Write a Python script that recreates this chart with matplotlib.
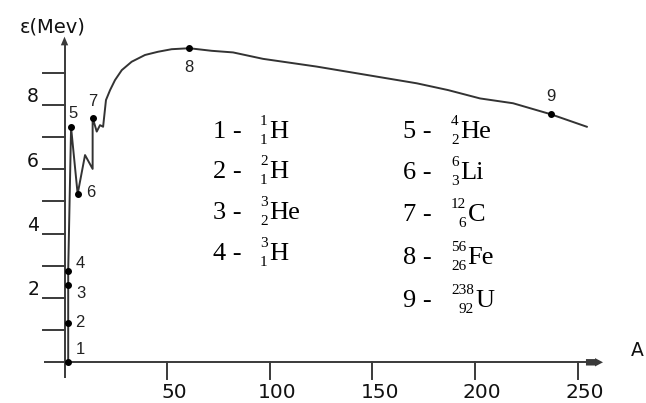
import matplotlib
matplotlib.use('Agg')
import matplotlib.pyplot as plt
from matplotlib.patches import Polygon

W, H = 646, 403

# ---- data ----
curve_A = [1.8, 1.8, 1.8, 1.8, 3.2, 6.4, 10.0, 13.7, 13.7, 15.7, 17.3, 18.8, 20.2, 22.2,
           24.6, 27.9, 32.7, 39.2, 45.5, 52.2, 60.8, 71.7, 82.1, 96.7, 122.8, 147.2,
           171.6, 186.8, 202.4, 218.5, 236.8, 254.4]
curve_E = [0.0, 1.21, 2.40, 2.85, 7.30, 5.23, 6.44, 6.01, 7.60, 7.17, 7.37, 7.32, 8.15, 8.46,
           8.77, 9.08, 9.34, 9.55, 9.65, 9.73, 9.76, 9.68, 9.63, 9.43, 9.19, 8.93,
           8.67, 8.46, 8.20, 8.05, 7.71, 7.32]

mark_A = [1.8, 1.8, 1.8, 1.8, 3.2, 6.4, 13.7, 60.8, 236.8]
mark_E = [0.0, 1.21, 2.40, 2.85, 7.30, 5.23, 7.60, 9.76, 7.71]
mark_labels = ['1', '2', '3', '4', '5', '6', '7', '8', '9']

x_ticks = [50, 100, 150, 200, 250]
y_ticks = [1, 2, 3, 4, 5, 6, 7, 8, 9]
y_ticklabels = [2, 4, 6, 8]

legend_num = ['1', '2', '3', '4', '5', '6', '7', '8', '9']
legend_mass = ['1', '2', '3', '3', '4', '6', '12', '56', '238']
legend_Z = ['1', '1', '2', '1', '2', '3', '6', '26', '92']
legend_sym = ['H', 'H', 'He', 'H', 'He', 'Li', 'C', 'Fe', 'U']

# ---- layout / style ----
label_off = [(12, 13), (12, 1), (13, -8), (12, 7), (2, 14), (13, 2), (0, 16), (0, -19), (0, 18)]
# (left x of row number, baseline y) in pixels from top-left
leg_pos = [(213, 138), (213, 178), (213, 219), (213, 260),
           (403, 138), (403, 179), (403, 221), (403, 264), (403, 307)]
stack_x = [260, 260, 260, 260, 451, 451, 451, 451, 451]

line_col = '#333333'
axis_col = '#3a3a3a'


def fx(x):
    return x / W


def fy(y):
    return 1 - y / H


fig = plt.figure(figsize=(W / 100, H / 100), dpi=100)
ax = fig.add_axes([0, 0, 1, 1])
ax.set_xlim(-31.42, 283.24)
ax.set_ylim(-1.265, 11.259)
ax.axis('off')

# axes lines
ax.plot([-10, 254.5], [0, 0], color=axis_col, lw=1.4, solid_capstyle='butt')
ax.plot([0, 0], [-0.5, 9.9], color=axis_col, lw=1.4, solid_capstyle='butt')
ax.add_patch(Polygon([(-1.8, 9.85), (1.8, 9.85), (0, 10.12)], closed=True,
                     color=axis_col, lw=0))
ax.add_patch(Polygon([(254.0, 0.1), (258.4, 0.1), (258.4, 0.13), (262.3, 0),
                      (258.4, -0.13), (258.4, -0.1), (254.0, -0.1)], closed=True,
                     color=axis_col, lw=0))

# ticks
for t in x_ticks:
    ax.plot([t, t], [0, -0.53], color=axis_col, lw=1.4)
    ax.text(t + 3.5, -0.95, str(t), ha='center', va='center', fontsize=14.5,
            family='DejaVu Sans', color='#111111')
for t in y_ticks:
    ax.plot([-10.5, 0], [t, t], color=axis_col, lw=1.4)
for t in y_ticklabels:
    ax.text(-15.3, t + 0.25, str(t), ha='center', va='center', fontsize=13.5,
            family='DejaVu Sans', color='#111111')

# curve and marked points
ax.plot(curve_A, curve_E, color=line_col, lw=1.4)
ax.plot(mark_A, mark_E, 'o', color='black', ms=4)
for a, e, lab, off in zip(mark_A, mark_E, mark_labels, label_off):
    ax.annotate(lab, (a, e), xytext=off, textcoords='offset pixels',
                ha='center', va='center', fontsize=12,
                family='Liberation Sans', color='#222222')

# axis titles
fig.text(fx(53), fy(27), 'ε(Mev)', ha='center', va='center', fontsize=14,
         family='DejaVu Sans', color='#111111')
fig.text(fx(637), fy(351), 'A', ha='center', va='center', fontsize=13.5,
         family='DejaVu Sans', color='#111111')

# isotope legend
digit_w = 7.6
for i in range(9):
    x0, base = leg_pos[i]
    fig.text(fx(x0), fy(base), legend_num[i] + ' -', ha='left', va='baseline',
             fontsize=19, family='Liberation Serif')
    sw = max(len(legend_mass[i]), len(legend_Z[i])) * digit_w
    xr = stack_x[i] + sw
    fig.text(fx(xr), fy(base - 13), legend_mass[i], ha='right', va='baseline',
             fontsize=11, family='Liberation Serif')
    fig.text(fx(xr), fy(base + 6), legend_Z[i], ha='right', va='baseline',
             fontsize=11, family='Liberation Serif')
    fig.text(fx(xr + 1.5), fy(base), legend_sym[i], ha='left', va='baseline',
             fontsize=19, family='Liberation Serif')

fig.savefig('out.png', dpi=100, facecolor='white')
